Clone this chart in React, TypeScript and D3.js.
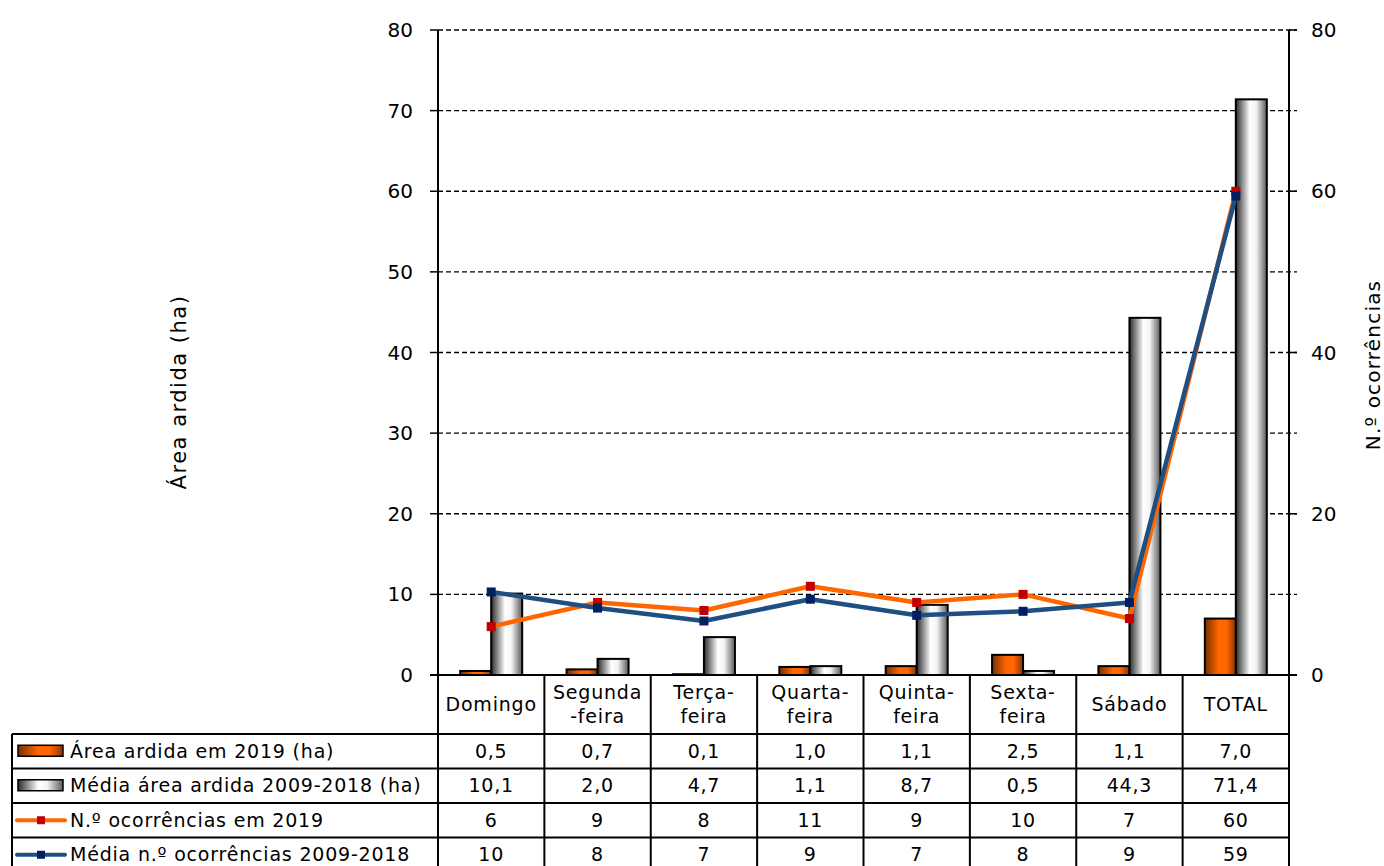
import React from "react";
import * as d3 from "d3";

const categories = ["Domingo", "Segunda-feira", "Terça-feira", "Quarta-feira", "Quinta-feira", "Sexta-feira", "Sábado", "TOTAL"];
const headerLines = [["Domingo"], ["Segunda", "-feira"], ["Terça-", "feira"], ["Quarta-", "feira"], ["Quinta-", "feira"], ["Sexta-", "feira"], ["Sábado"], ["TOTAL"]];
const area2019 = [0.5, 0.7, 0.1, 1.0, 1.1, 2.5, 1.1, 7.0];
const areaMedia = [10.1, 2.0, 4.7, 1.1, 8.7, 0.5, 44.3, 71.4];
const ocorr2019 = [6, 9, 8, 11, 9, 10, 7, 60];
const ocorrMedia = [10.3, 8.3, 6.7, 9.4, 7.4, 7.9, 9.0, 59.4];
const leftTicks = [0, 10, 20, 30, 40, 50, 60, 70, 80];
const rightTicks = [0, 20, 40, 60, 80];
const seriesNames = ["Área ardida em 2019 (ha)", "Média área ardida 2009-2018 (ha)", "N.º ocorrências em 2019", "Média n.º ocorrências 2009-2018"];

const FONT = "'DejaVu Sans', sans-serif";

export default function App() {
  const W = 1384, H = 866;
  const plotL = 438, plotR = 1289, plotT = 30, plotB = 675;
  const x = d3.scaleBand<string>().domain(categories).range([plotL, plotR]).padding(0);
  const yL = d3.scaleLinear().domain([0, 80]).range([plotB, plotT]);
  const yR = d3.scaleLinear().domain([0, 80]).range([plotB, plotT]);
  const bw = 31;
  const cx = (c: string) => (x(c) as number) + x.bandwidth() / 2;

  const line = d3.line<number>().x((_, i) => cx(categories[i])).y((d) => yR(d));

  const fmt1 = (v: number) => v.toFixed(1).replace(".", ",");
  const fmt0 = (v: number) => String(Math.round(v));

  const headerBottom = 734;
  const rowH = 34.5;
  const rowTops = [0, 1, 2, 3].map((i) => headerBottom + i * rowH);
  const tableLeft = 12;
  const rowsText = [area2019.map(fmt1), areaMedia.map(fmt1), ocorr2019.map(fmt0), ocorrMedia.map(fmt0)];

  const fs = 19;
  const ls = 0.8;

  return (
    <svg width={W} height={H} style={{ position: "absolute", left: 0, top: 0, background: "#fff" }} fontFamily={FONT}>
      <defs>
        <linearGradient id="gOrange" x1="0" x2="1" y1="0" y2="0">
          <stop offset="0" stopColor="#7a2e00" />
          <stop offset="0.45" stopColor="#ff6600" />
          <stop offset="0.7" stopColor="#ff6600" />
          <stop offset="1" stopColor="#8a3500" />
        </linearGradient>
        <linearGradient id="gGray" x1="0" x2="1" y1="0" y2="0">
          <stop offset="0" stopColor="#2a2a2a" />
          <stop offset="0.45" stopColor="#ffffff" />
          <stop offset="0.65" stopColor="#f4f4f4" />
          <stop offset="1" stopColor="#5a5a5a" />
        </linearGradient>
      </defs>
      <rect x={0} y={0} width={W} height={H} fill="#fff" />

      {/* gridlines */}
      {leftTicks.filter((t) => t > 0).map((t) => (
        <line key={"g" + t} x1={plotL} x2={plotR + 8} y1={yL(t)} y2={yL(t)} stroke="#000" strokeWidth={1.3} strokeDasharray="5,3" />
      ))}

      {/* bars */}
      {categories.map((c, i) => (
        <g key={"b" + c}>
          <rect x={cx(c) - bw} y={yL(area2019[i])} width={bw} height={plotB - yL(area2019[i])} fill="url(#gOrange)" stroke="#000" strokeWidth={2} />
          <rect x={cx(c)} y={yL(areaMedia[i])} width={bw} height={plotB - yL(areaMedia[i])} fill="url(#gGray)" stroke="#000" strokeWidth={2} />
        </g>
      ))}

      {/* lines */}
      <path d={line(ocorr2019) || ""} fill="none" stroke="#ff6600" strokeWidth={4.5} strokeLinejoin="round" />
      <path d={line(ocorrMedia) || ""} fill="none" stroke="#1f4e82" strokeWidth={4.5} strokeLinejoin="round" />
      {ocorr2019.map((v, i) => (
        <rect key={"m1" + i} x={cx(categories[i]) - 4.5} y={yR(v) - 4.5} width={9} height={9} fill="#c00000" />
      ))}
      {ocorrMedia.map((v, i) => (
        <rect key={"m2" + i} x={cx(categories[i]) - 4.5} y={yR(v) - 4.5} width={9} height={9} fill="#002060" />
      ))}

      {/* axes */}
      <line x1={plotL} x2={plotL} y1={plotT} y2={H} stroke="#000" strokeWidth={2} />
      <line x1={plotR} x2={plotR} y1={plotT} y2={H} stroke="#000" strokeWidth={2} />
      <line x1={plotL - 8} x2={plotR + 8} y1={plotB} y2={plotB} stroke="#000" strokeWidth={2} />
      {leftTicks.map((t) => (
        <g key={"lt" + t}>
          <line x1={plotL - 8} x2={plotL} y1={yL(t)} y2={yL(t)} stroke="#000" strokeWidth={1.5} />
          <text x={plotL - 25} y={yL(t)} dy="0.35em" textAnchor="end" fontSize={20} fill="#000">{t}</text>
        </g>
      ))}
      {rightTicks.map((t) => (
        <g key={"rt" + t}>
          <line x1={plotR} x2={plotR + 8} y1={yR(t)} y2={yR(t)} stroke="#000" strokeWidth={1.5} />
          <text x={plotR + 22} y={yR(t)} dy="0.35em" textAnchor="start" fontSize={20} fill="#000">{t}</text>
        </g>
      ))}
      <text transform="translate(186,392) rotate(-90)" textAnchor="middle" fontSize={21} letterSpacing={1.5} fill="#000">Área ardida (ha)</text>
      <text transform="translate(1380,365) rotate(-90)" textAnchor="middle" fontSize={20} letterSpacing={1.2} fill="#000">N.º ocorrências</text>

      {/* table: column separators */}
      {categories.slice(1).map((c) => (
        <line key={"vs" + c} x1={x(c) as number} x2={x(c) as number} y1={plotB} y2={H} stroke="#000" strokeWidth={2} />
      ))}
      <line x1={tableLeft} x2={tableLeft} y1={headerBottom} y2={H} stroke="#000" strokeWidth={2} />
      {rowTops.map((y, i) => (
        <line key={"rh" + i} x1={tableLeft} x2={plotR} y1={y} y2={y} stroke="#000" strokeWidth={2} />
      ))}
      {/* header */}
      {categories.map((c, i) => {
        const lines = headerLines[i];
        const mid = (plotB + headerBottom) / 2;
        return (
          <text key={"h" + c} x={cx(c)} textAnchor="middle" fontSize={fs} letterSpacing={ls} fill="#000">
            {lines.map((l, j) => (
              <tspan key={j} x={cx(c)} y={mid + (j - (lines.length - 1) / 2) * 24} dy="0.35em">{l}</tspan>
            ))}
          </text>
        );
      })}
      {/* rows */}
      {rowsText.map((row, r) =>
        row.map((v, i) => (
          <text key={"v" + r + "-" + i} x={cx(categories[i])} y={rowTops[r] + rowH / 2} dy="0.35em" textAnchor="middle" fontSize={fs} letterSpacing={ls} fill="#000">{v}</text>
        ))
      )}
      {/* legend */}
      {seriesNames.map((n, r) => {
        const yc = rowTops[r] + rowH / 2;
        let sw;
        if (r === 0) sw = <rect x={18} y={yc - 6} width={45} height={11} fill="url(#gOrange)" stroke="#000" strokeWidth={1.5} />;
        else if (r === 1) sw = <rect x={18} y={yc - 6} width={45} height={11} fill="url(#gGray)" stroke="#000" strokeWidth={1.5} />;
        else {
          const col = r === 2 ? "#ff6600" : "#1f4e82";
          const mk = r === 2 ? "#c00000" : "#002060";
          sw = (
            <g>
              <line x1={17} x2={65} y1={yc} y2={yc} stroke={col} strokeWidth={4} strokeLinecap="round" />
              <rect x={37} y={yc - 4} width={8} height={8} fill={mk} />
            </g>
          );
        }
        return (
          <g key={"lg" + r}>
            {sw}
            <text x={70} y={yc} dy="0.35em" fontSize={fs} letterSpacing={ls} fill="#000">{n}</text>
          </g>
        );
      })}
    </svg>
  );
}
